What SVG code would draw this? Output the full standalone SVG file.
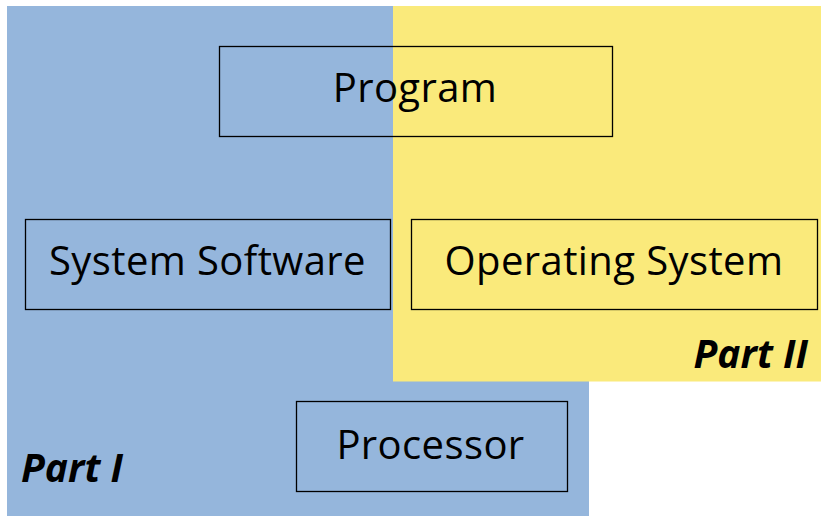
<svg xmlns="http://www.w3.org/2000/svg" width="821" height="516" viewBox="0 0 821 516">
<style>
.node rect{fill:none;stroke:#000;stroke-width:1.3}
.node text{font-family:"Open Sans","Noto Sans",sans-serif;font-size:40px;letter-spacing:0.4px;fill:#000;text-anchor:middle}
.part{font-family:"Open Sans","Noto Sans",sans-serif;font-size:39px;font-weight:bold;font-style:italic;fill:#000}
</style>
<rect width="821" height="516" fill="#fff"/>
<g id="part1">
<rect x="7" y="6" width="582" height="510" fill="#95B6DC"/>
</g>
<g id="part2">
<rect x="393" y="6" width="428" height="375.5" fill="#FAEA7B"/>
</g>
<g id="connectors"></g>
<g id="program" class="node">
<rect x="219.5" y="46.5" width="393" height="90"/>
<text x="415" y="102">Program</text>
</g>
<g id="system-software" class="node">
<rect x="25.5" y="219.5" width="365" height="90"/>
<text x="207.5" y="274.5">System Software</text>
</g>
<g id="operating-system" class="node">
<rect x="411.5" y="219.5" width="406" height="90"/>
<text x="614" y="275">Operating System</text>
</g>
<g id="processor" class="node">
<rect x="296.5" y="401.5" width="271" height="90"/>
<text x="430.5" y="459">Processor</text>
</g>
<text class="part" x="21" y="482">Part I</text>
<text class="part" x="808" y="367.5" text-anchor="end">Part II</text>
</svg>
